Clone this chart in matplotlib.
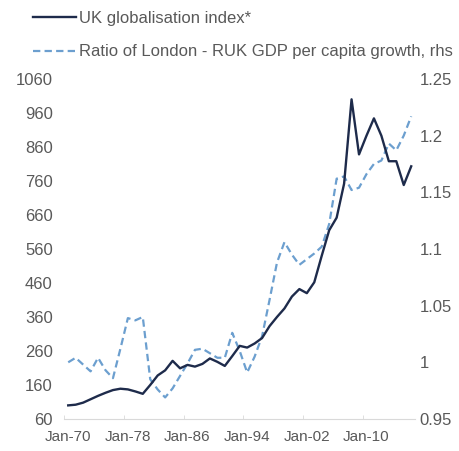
import numpy as np
import matplotlib
matplotlib.use("Agg")
import matplotlib.pyplot as plt

# annual data, 1970-2016
years = list(range(1970, 2017))

# UK globalisation index (left axis)
glob_index = [100, 102, 108, 118, 128, 137, 145, 149, 147, 141,
              134, 160, 188, 203, 231, 209, 219, 214, 222, 238,
              228, 216, 245, 275, 270, 282, 298, 333, 360, 385,
              420, 442, 430, 462, 540, 615, 652, 752, 1000, 838,
              893, 944, 893, 818, 818, 748, 803]

# ratio of London - RUK GDP per capita growth (right axis)
london_ratio = [1.000, 1.004, 0.998, 0.992, 1.004, 0.993, 0.986, 1.012, 1.039, 1.037,
                1.040, 0.985, 0.976, 0.969, 0.977, 0.988, 0.999, 1.011, 1.012, 1.008,
                1.004, 1.004, 1.026, 1.010, 0.991, 1.005, 1.023, 1.055, 1.088, 1.106,
                1.095, 1.086, 1.091, 1.096, 1.102, 1.122, 1.162, 1.164, 1.152, 1.154,
                1.166, 1.175, 1.178, 1.193, 1.187, 1.200, 1.217]

left_ticks = [60, 160, 260, 360, 460, 560, 660, 760, 860, 960, 1060]
right_ticks = [0.95, 1.0, 1.05, 1.1, 1.15, 1.2, 1.25]
right_labels = ["0.95", "1", "1.05", "1.1", "1.15", "1.2", "1.25"]
label_years = [1970, 1978, 1986, 1994, 2002, 2010]

plt.rcParams['font.family'] = ['Liberation Sans', 'DejaVu Sans']
grey = '#595959'
navy = '#1e2b4b'
light_blue = '#6c9fcf'

fig = plt.figure(figsize=(4.59, 4.51), dpi=100)
ax = fig.add_axes([0.1405, 0.071, 0.7635, 0.754])
ax2 = ax.twinx()

l1, = ax.plot(years, glob_index, color=navy, lw=1.7, label='UK globalisation index*', zorder=3)
l2, = ax2.plot(years, london_ratio, color=light_blue, lw=1.6, dashes=(3.3, 1.9),
               label='Ratio of London - RUK GDP per capita growth, rhs')
ax.set_zorder(ax2.get_zorder() + 1)
ax.patch.set_visible(False)

ax.set_xlim(1969.5, 2016.5)
ax.set_ylim(60, 1060)
ax2.set_ylim(0.95, 1.25)

ax.set_yticks(left_ticks)
ax.set_yticklabels([str(t) for t in left_ticks])
ax2.set_yticks(right_ticks)
ax2.set_yticklabels(right_labels)

ax.set_xticks(label_years)
ax.set_xticklabels(["Jan-" + str(y)[2:] for y in label_years])
ax.set_xticks([y - 0.5 for y in label_years], minor=True)

ax.tick_params(axis='y', length=0, pad=8.5, labelsize=12, labelcolor=grey)
ax2.tick_params(axis='y', length=0, pad=3.5, labelsize=12, labelcolor=grey)
ax.tick_params(axis='x', which='major', length=0, pad=8, labelsize=11, labelcolor=grey)
ax.tick_params(axis='x', which='minor', length=3, direction='in', color='#d9d9d9')

for a in (ax, ax2):
    for s in ['top', 'left', 'right', 'bottom']:
        a.spines[s].set_visible(False)
ax.spines['bottom'].set_visible(True)
ax.spines['bottom'].set_color('#d9d9d9')

fig.legend(handles=[l1, l2], loc='upper left', bbox_to_anchor=(0.072, 0.976),
           frameon=False, fontsize=12, labelcolor=grey, handlelength=2.6,
           handletextpad=0.15, labelspacing=1.12, borderpad=0, borderaxespad=0)

fig.savefig('out.png', dpi=100)
